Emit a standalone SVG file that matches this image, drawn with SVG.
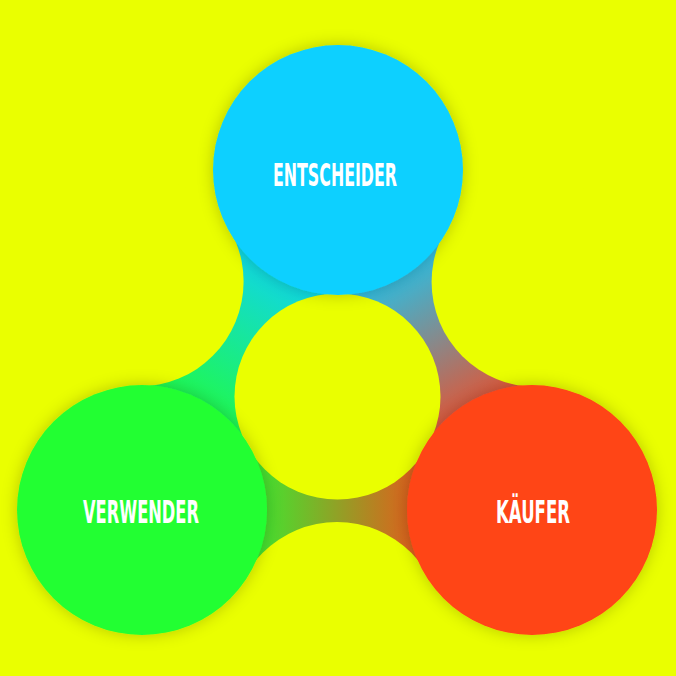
<svg xmlns="http://www.w3.org/2000/svg" width="676" height="676" viewBox="0 0 676 676">
  <defs>
    <filter id="sh" x="-30%" y="-30%" width="160%" height="160%">
      <feDropShadow dx="0" dy="0" stdDeviation="8" flood-color="#000" flood-opacity="0.22"/>
    </filter>
    <linearGradient id="gBG" gradientUnits="userSpaceOnUse" x1="338" y1="170" x2="142" y2="510">
      <stop offset="0.22" stop-color="#0DD0FF"/>
      <stop offset="0.78" stop-color="#22FF33"/>
    </linearGradient>
    <linearGradient id="gGR" gradientUnits="userSpaceOnUse" x1="142" y1="510" x2="532" y2="510">
      <stop offset="0.22" stop-color="#22FF33"/>
      <stop offset="0.78" stop-color="#FF4419"/>
    </linearGradient>
    <linearGradient id="gBR" gradientUnits="userSpaceOnUse" x1="338" y1="170" x2="532" y2="510">
      <stop offset="0.22" stop-color="#0DD0FF"/>
      <stop offset="0.78" stop-color="#FF4419"/>
    </linearGradient>
    <style>
      .cut { fill: #EAFF00; }
      .node circle { filter: url(#sh); }
      .lbl { font-family: "DejaVu Sans", "Liberation Sans", sans-serif; font-weight: bold; font-size: 32px; fill: #FFFFFF; text-anchor: middle; }
    </style>
  </defs>
  <rect width="676" height="676" fill="#EAFF00"/>
  <g id="connectors">
    <polygon points="338,170 138.6,281.6 142,510 337.3,396.7" fill="url(#gBG)"/>
    <polygon points="142,510 337,627 532,510 337.3,396.7" fill="url(#gGR)"/>
    <polygon points="338,170 536.6,282 532,510 337.3,396.7" fill="url(#gBR)"/>
    <circle class="cut" cx="337.5" cy="396.5" r="103"/>
    <circle class="cut" cx="138.6" cy="281.6" r="105"/>
    <circle class="cut" cx="337" cy="627" r="105"/>
    <circle class="cut" cx="536.6" cy="282" r="105"/>
  </g>
  <g id="entscheider" class="node">
    <circle cx="338" cy="170" r="125" fill="#0DD0FF"/>
    <text class="lbl" x="335" y="186" textLength="124" lengthAdjust="spacingAndGlyphs">ENTSCHEIDER</text>
  </g>
  <g id="verwender" class="node">
    <circle cx="142" cy="510" r="125" fill="#22FF33"/>
    <text class="lbl" x="141" y="523" textLength="116" lengthAdjust="spacingAndGlyphs">VERWENDER</text>
  </g>
  <g id="kaeufer" class="node">
    <circle cx="532" cy="510" r="125" fill="#FF4419"/>
    <text class="lbl" x="533" y="523" textLength="74" lengthAdjust="spacingAndGlyphs">KÄUFER</text>
  </g>
</svg>
